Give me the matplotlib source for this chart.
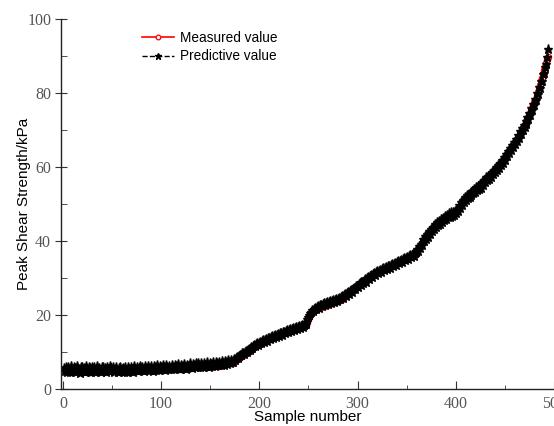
import numpy as np
import matplotlib.pyplot as plt
from matplotlib.ticker import MultipleLocator

# peak shear strength (kPa) per sample
measured = [
    5.0, 5.3, 4.8, 5.1, 5.4, 4.9, 5.2, 5.0, 4.7, 5.3, 5.1, 4.9, 5.2, 5.5, 5.0, 4.8, 5.1, 5.3, 4.9, 5.0,
    5.2, 4.8, 5.0, 5.3, 5.1, 4.9, 5.2, 4.7, 5.0, 5.4, 5.1, 4.9, 5.0, 5.2, 4.8, 5.1, 5.3, 5.0, 4.9, 5.2,
    5.0, 5.3, 4.8, 5.1, 5.2, 4.9, 5.0, 5.4, 5.1, 4.8, 5.0, 5.2, 4.9, 5.1, 5.3, 5.0, 4.8, 5.1, 5.2, 4.9,
    4.8, 5.0, 4.7, 5.1, 4.9, 5.2, 5.0, 4.8, 5.1, 5.3, 5.0, 5.2, 4.9, 5.1, 5.4, 5.2, 5.0, 5.3, 5.1, 5.2,
    5.4, 5.1, 5.3, 5.0, 5.2, 5.5, 5.1, 5.3, 5.4, 5.2, 5.0, 5.3, 5.5, 5.2, 5.4, 5.1, 5.3, 5.6, 5.4, 5.5,
    5.3, 5.6, 5.4, 5.7, 5.5, 5.3, 5.6, 5.8, 5.5, 5.7, 5.4, 5.6, 5.8, 5.5, 5.7, 5.9, 5.6, 5.8, 5.5, 5.7,
    5.9, 5.6, 5.8, 6.0, 5.7, 5.9, 6.1, 5.8, 6.0, 5.7, 5.9, 6.2, 6.0, 5.8, 6.1, 6.3, 6.0, 6.2, 5.9, 6.1,
    6.3, 6.0, 6.2, 6.4, 6.1, 6.3, 6.5, 6.2, 6.4, 6.1, 6.3, 6.6, 6.4, 6.2, 6.5, 6.7, 6.4, 6.6, 6.3, 6.5,
    6.7, 6.5, 6.8, 6.6, 6.9, 7.0, 6.8, 7.1, 7.0, 7.2, 7.1, 7.3, 7.5, 7.4, 7.7, 7.9, 8.1, 8.3, 8.4, 8.6,
    8.8, 9.0, 9.2, 9.4, 9.6, 9.7, 9.9, 10.1, 10.3, 10.4, 10.6, 10.8, 11.0, 11.1, 11.3, 11.5, 11.6, 11.8, 11.9, 12.1,
    12.2, 12.3, 12.5, 12.6, 12.8, 12.9, 13.0, 13.2, 13.3, 13.4, 13.5, 13.7, 13.8, 13.9, 14.0, 14.1, 14.3, 14.4, 14.5, 14.6,
    14.7, 14.8, 14.9, 15.0, 15.1, 15.2, 15.3, 15.3, 15.4, 15.5, 15.6, 15.7, 15.8, 15.9, 16.0, 16.1, 16.2, 16.3, 16.4, 16.5,
    16.6, 16.7, 16.8, 16.9, 17.0, 17.1, 17.3, 17.6, 18.2, 18.9, 19.5, 20.0, 20.4, 20.7, 21.0, 21.2, 21.4, 21.5, 21.7, 21.8,
    22.0, 22.1, 22.2, 22.3, 22.4, 22.5, 22.6, 22.7, 22.8, 22.9, 23.0, 23.1, 23.2, 23.3, 23.4, 23.5, 23.6, 23.7, 23.8, 23.9,
    24.0, 24.1, 24.2, 24.4, 24.6, 24.8, 25.0, 25.2, 25.4, 25.6, 25.8, 26.0, 26.3, 26.5, 26.8, 27.0, 27.2, 27.4, 27.6, 27.8,
    28.0, 28.1, 28.3, 28.4, 28.5, 28.7, 28.9, 29.1, 29.3, 29.5, 29.7, 29.9, 30.1, 30.4, 30.6, 30.8, 31.0, 31.1, 31.3, 31.4,
    31.6, 31.7, 31.8, 32.0, 32.1, 32.2, 32.3, 32.4, 32.5, 32.6, 32.8, 32.9, 33.0, 33.2, 33.3, 33.5, 33.6, 33.8, 33.9, 34.0,
    34.2, 34.3, 34.4, 34.5, 34.7, 34.8, 34.9, 35.0, 35.2, 35.3, 35.5, 35.6, 35.7, 35.8, 35.9, 36.0, 36.1, 36.3, 36.6, 37.0,
    37.4, 37.7, 38.0, 38.3, 38.8, 39.4, 40.0, 40.5, 40.8, 41.0, 41.3, 41.6, 42.0, 42.3, 42.6, 43.0, 43.3, 43.6, 43.9, 44.2,
    44.4, 44.7, 44.9, 45.1, 45.3, 45.5, 45.7, 45.9, 46.1, 46.3, 46.5, 46.7, 46.8, 46.9, 47.0, 47.1, 47.2, 47.3, 47.5, 47.8,
    48.1, 48.5, 49.0, 49.4, 49.8, 50.2, 50.6, 50.9, 51.2, 51.4, 51.7, 51.9, 52.1, 52.3, 52.5, 52.8, 53.0, 53.3, 53.5, 53.7,
    53.9, 54.1, 54.3, 54.5, 54.6, 54.8, 55.1, 55.5, 55.9, 56.3, 56.6, 56.8, 57.0, 57.2, 57.5, 57.8, 58.1, 58.4, 58.7, 59.0,
    59.3, 59.6, 59.9, 60.2, 60.5, 60.8, 61.2, 61.6, 62.0, 62.5, 63.0, 63.4, 63.8, 64.2, 64.6, 65.0, 65.4, 65.8, 66.2, 66.6,
    67.0, 67.5, 68.0, 68.5, 69.0, 69.5, 70.0, 70.4, 70.8, 71.3, 71.8, 72.3, 72.8, 73.4, 74.0, 74.6, 75.3, 76.0, 76.8, 77.6,
    77.7, 78.5, 79.3, 80.2, 81.1, 82.1, 83.1, 84.1, 85.1, 86.1, 87.1, 88.1, 89.1, 89.6,
]

predicted = [
    5.6, 4.9, 5.8, 4.6, 6.0, 5.3, 4.5, 6.1, 5.4, 4.8, 5.9, 5.7, 4.6, 6.2, 5.1, 5.5, 4.4, 6.0, 5.8, 4.9,
    5.7, 5.2, 4.5, 6.1, 5.4, 4.8, 5.9, 5.6, 4.6, 6.0, 5.3, 5.8, 4.7, 5.5, 6.1, 4.9, 5.6, 5.2, 4.5, 5.9,
    6.0, 5.1, 5.7, 4.6, 5.9, 5.4, 4.8, 6.1, 5.6, 5.0, 5.8, 4.7, 5.5, 6.0, 5.2, 4.6, 5.7, 5.9, 4.8, 5.4,
    5.6, 4.5, 5.9, 5.2, 4.7, 6.0, 5.5, 4.9, 5.8, 5.3, 4.6, 6.1, 5.4, 5.0, 5.9, 4.8, 5.7, 6.2, 5.1, 5.5,
    6.0, 5.4, 4.9, 6.2, 5.7, 5.1, 6.3, 5.6, 5.0, 6.1, 5.5, 4.9, 6.2, 5.8, 5.2, 6.4, 5.6, 5.1, 6.3, 5.9,
    5.3, 6.4, 5.8, 5.2, 6.5, 6.0, 5.4, 6.3, 5.7, 5.5, 6.6, 5.9, 5.3, 6.4, 6.1, 5.6, 6.7, 5.9, 5.4, 6.5,
    6.2, 5.7, 6.8, 6.0, 5.5, 6.6, 6.3, 5.8, 6.9, 6.1, 5.6, 6.7, 6.4, 5.9, 7.0, 6.2, 5.8, 6.9, 6.5, 6.0,
    7.1, 6.4, 5.9, 7.0, 6.6, 6.1, 7.2, 6.5, 6.0, 7.1, 6.7, 6.3, 7.3, 6.6, 6.2, 7.4, 6.9, 6.4, 7.3, 6.8,
    6.5, 7.5, 7.0, 6.6, 7.6, 7.2, 6.8, 7.7, 7.3, 6.9, 7.8, 7.4, 7.2, 8.0, 7.9, 8.3, 8.6, 8.4, 9.0, 9.3,
    9.1, 9.6, 9.8, 9.5, 10.1, 10.3, 10.0, 10.6, 10.8, 10.5, 11.1, 11.3, 11.0, 11.6, 11.8, 11.5, 12.1, 12.3, 11.9, 12.5,
    12.7, 12.3, 12.9, 13.1, 12.7, 13.3, 13.5, 13.0, 13.7, 13.9, 13.4, 14.0, 14.2, 13.8, 14.4, 14.6, 14.1, 14.7, 14.9, 14.4,
    15.0, 15.2, 14.7, 15.3, 15.5, 15.0, 15.7, 15.9, 15.3, 16.0, 16.1, 15.6, 16.2, 16.4, 15.9, 16.5, 16.7, 16.2, 16.8, 17.0,
    16.5, 17.1, 17.3, 16.8, 17.4, 17.6, 17.6, 18.1, 18.8, 19.4, 20.1, 20.5, 20.9, 21.3, 21.0, 21.6, 21.9, 21.5, 22.2, 22.4,
    21.9, 22.6, 22.8, 22.3, 22.9, 23.1, 22.6, 23.2, 23.4, 22.9, 23.5, 23.7, 23.2, 23.8, 24.0, 23.5, 24.1, 24.3, 23.8, 24.4,
    24.6, 24.2, 24.9, 25.1, 24.7, 25.4, 25.6, 25.2, 25.9, 26.1, 25.7, 26.5, 26.8, 26.3, 27.1, 27.4, 26.9, 27.7, 27.9, 27.5,
    28.3, 28.5, 28.0, 28.8, 29.0, 28.5, 29.3, 29.6, 29.0, 29.9, 30.2, 29.6, 30.5, 30.8, 30.2, 31.1, 31.4, 30.8, 31.6, 31.8,
    31.3, 32.0, 32.2, 31.7, 32.4, 32.6, 32.1, 32.8, 33.0, 32.4, 33.1, 33.3, 32.8, 33.5, 33.7, 33.2, 33.9, 34.1, 33.6, 34.3,
    34.5, 34.0, 34.7, 34.9, 34.4, 35.1, 35.3, 34.8, 35.5, 35.7, 35.2, 35.9, 36.1, 35.6, 36.3, 36.4, 35.9, 36.7, 37.0, 37.3,
    37.9, 37.3, 38.6, 38.0, 39.3, 39.0, 40.6, 40.1, 41.4, 40.6, 41.9, 41.2, 42.6, 41.9, 43.2, 42.6, 43.9, 43.1, 44.5, 43.8,
    45.0, 44.3, 45.5, 44.7, 45.9, 45.1, 46.3, 45.6, 46.8, 46.0, 47.1, 46.4, 47.5, 46.6, 47.7, 46.8, 47.9, 47.0, 48.2, 47.5,
    48.7, 48.1, 49.6, 48.8, 50.4, 49.7, 51.2, 50.4, 51.9, 51.0, 52.3, 51.5, 52.7, 52.0, 53.1, 52.4, 53.6, 52.9, 54.1, 53.3,
    54.5, 53.7, 54.9, 54.1, 55.3, 54.4, 55.8, 55.0, 56.5, 55.8, 57.2, 56.4, 57.6, 56.8, 58.1, 57.4, 58.7, 58.0, 59.3, 58.6,
    59.9, 59.2, 60.5, 59.8, 61.1, 60.4, 61.8, 61.2, 62.6, 62.0, 63.6, 62.9, 64.4, 63.7, 65.2, 64.5, 66.0, 65.3, 66.8, 66.1,
    67.6, 67.0, 68.6, 67.9, 69.6, 69.0, 70.6, 69.9, 71.4, 70.8, 72.4, 71.7, 73.4, 72.9, 74.6, 74.0, 75.8, 75.3, 77.1, 76.7,
    78.4, 78.1, 79.9, 79.7, 81.5, 81.4, 83.2, 83.3, 85.0, 85.5, 87.1, 87.8, 89.6, 91.8,
]

x_meas = np.arange(1, len(measured) + 1)
x_pred = np.arange(1, len(predicted) + 1)

fig = plt.figure(figsize=(5.54, 4.26), dpi=100)
ax = fig.add_axes([0.110, 0.087, 0.890, 0.8685])

ax.plot(x_meas, measured, color="red", lw=1.2, marker="o", ms=4.5,
        mfc="white", mec="red", mew=0.9, label="Measured value")
ax.plot(x_pred, predicted, color="black", lw=1.0, ls="--", marker="*", ms=6.5,
        mec="black", mfc="black", label="Predictive value")

ax.set_xlim(-2, 500)
ax.set_ylim(0, 100)
ax.xaxis.set_major_locator(MultipleLocator(100))
ax.xaxis.set_minor_locator(MultipleLocator(50))
ax.yaxis.set_major_locator(MultipleLocator(20))
ax.yaxis.set_minor_locator(MultipleLocator(10))

for side in ["top", "right"]:
    ax.spines[side].set_visible(False)
for side in ["left", "bottom"]:
    ax.spines[side].set_linewidth(1.0)
    ax.spines[side].set_color("#222222")

ax.tick_params(axis="x", which="major", direction="in", length=6, pad=5)
ax.tick_params(axis="x", which="minor", direction="in", length=3)
ax.tick_params(axis="y", which="major", direction="inout", length=8, pad=3)
ax.tick_params(axis="y", which="minor", direction="in", length=4)
ax.tick_params(which="both", color="#333333", labelcolor="#555555")
for lab in ax.get_xticklabels() + ax.get_yticklabels():
    lab.set_fontfamily("Liberation Serif")
    lab.set_fontsize(11.5)

ax.set_xlabel("Sample number", fontsize=11, family="Liberation Sans", labelpad=-1)
ax.set_ylabel("Peak Shear Strength/kPa", fontsize=11, family="Liberation Sans", labelpad=-3)

ax.legend(loc="upper left", bbox_to_anchor=(0.14, 1.0), frameon=False,
          prop={"family": "Liberation Sans", "size": 9.8},
          handlelength=2.3, handletextpad=0.5, labelspacing=0.3, markerscale=0.75)

fig.savefig("out.png", dpi=100)
